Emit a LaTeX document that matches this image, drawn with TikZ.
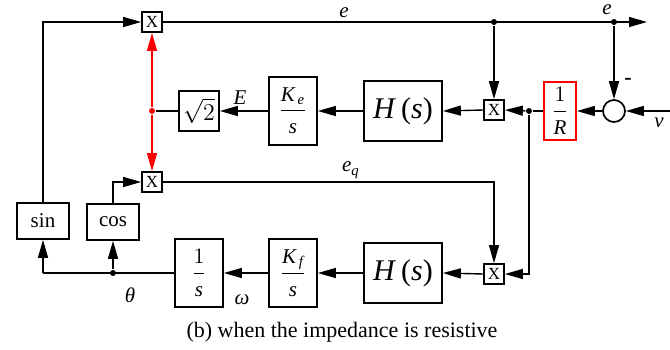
\documentclass[tikz,border=0pt]{standalone}
\usepackage{amsmath}
\usepackage{fontspec}
\setmainfont{Liberation Serif}
\usetikzlibrary{arrows.meta}
\newcommand\mi[1]{\textit{#1}}
\newcommand\fr[2]{$\dfrac{#1\rule[-2.5pt]{0pt}{0pt}}{\rule{0pt}{10pt}#2}$}
\begin{document}
\begin{tikzpicture}[x=0.5pt,y=-0.5pt,line width=0.7pt,
 every node/.style={inner sep=0pt},
 blk/.style={draw,line width=0.85pt,fill=white},
 mul/.style={blk,minimum width=10pt,minimum height=10pt,font=\fontsize{8.5}{8.5}\selectfont},
 fracbox/.style={blk,minimum width=24pt,minimum height=34pt,font=\fontsize{10.5}{10.5}\selectfont},
 hbox/.style={blk,minimum width=39pt,minimum height=30pt,font=\fontsize{15}{15}\selectfont},
 trig/.style={blk,minimum width=26pt,minimum height=18pt,font=\fontsize{10.5}{10.5}\selectfont},
 ar/.style={-{Triangle[length=9pt,width=5pt]}},
 jdot/.style={circle,fill,minimum size=3pt},
 lab/.style={font=\fontsize{10.5}{10.5}\selectfont\itshape},
]
\useasboundingbox (0,0) rectangle (670,349);
% multipliers
\node[mul] (x1) at (152,22) {X};
\node[mul] (x2) at (152,182) {X};
\node[mul] (x3) at (494,110) {X};
\node[mul] (x4) at (494,274) {X};
% blocks
\node[blk,minimum width=20pt,minimum height=20pt,font=\fontsize{12.5}{12.5}\selectfont] (sq) at (199,111) {$\sqrt{2}$};
\node[fracbox] (ke) at (293,111) {\fr{\mi{K}_{\,\mi{e}}}{\mi{s}}};
\node[hbox] (h1) at (403,111) {\mi{H}\,(\mi{s})};
\node[blk,draw=red,minimum width=16pt,minimum height=29pt,font=\fontsize{10.5}{10.5}\selectfont] (r) at (560,111) {\fr{1}{\mi{R}}};
\node[draw,circle,line width=0.85pt,minimum size=11pt] (sum) at (614,111) {};
\node[hbox] (h2) at (403,273) {\mi{H}\,(\mi{s})};
\node[fracbox] (kf) at (293,273) {\fr{\mi{K}_{\,\mi{f}}}{\mi{s}}};
\node[fracbox] (is) at (199,273) {\fr{1}{\mi{s}}};
\node[trig] (cos) at (113,222) {cos};
\node[trig] (sin) at (43,221) {sin};
% junctions
\coordinate (eout) at (647,22);
\coordinate (vin) at (670,111);
\coordinate (c1) at (43,273);
\node[jdot] (d1) at (494,22) {};
\node[jdot] (d2) at (614,22) {};
\node[jdot] (d3) at (529,111) {};
\node[jdot,red] (dr) at (152,111) {};
\node[jdot] (d4) at (113,273) {};
% connectors
\draw[ar] (sin.north) |- (x1.west);
\draw[ar] (x1.east) -- (eout);
\draw[ar] (d1) -- (x3.north);
\draw[ar] (d2) -- (sum.north);
\draw[ar] (vin) -- (sum.east);
\draw[ar] (sum.west) -- (r.east);
\draw (r.west) -- (d3);
\draw[ar] (d3) -- (x3.east);
\draw[ar] (x3.west) -- (h1.east);
\draw[ar] (h1.west) -- (ke.east);
\draw[ar] (ke.west) -- (sq.east);
\draw (sq.west) -- (dr);
\draw[ar,red] (dr) -- (x1.south);
\draw[ar,red] (dr) -- (x2.north);
\draw[ar] (d3) |- (x4.east);
\draw[ar] (x2.east) -| (x4.north);
\draw[ar] (x4.west) -- (h2.east);
\draw[ar] (h2.west) -- (kf.east);
\draw[ar] (kf.west) -- (is.east);
\draw (is.west) -- (c1);
\draw[ar] (c1) -- (sin.south);
\draw[ar] (d4) -- (cos.south);
\draw[ar] (cos.north) |- (x2.west);
% labels
\node[lab] (le1) at (344,13) {e};
\node[lab] (le2) at (607,10) {e};
\node[font=\fontsize{11}{11}\selectfont\bfseries] (lm) at (628,81) {-};
\node[lab] (lv) at (659,123) {v};
\node[lab] (lE) at (240,98) {E};
\node[lab] (leq) at (351,170) {e\textsubscript{q}};
\node[lab] (lth) at (130,295) {θ};
\node[lab] (lom) at (242,300) {ω};
\node[font=\fontsize{11}{11}\selectfont] (cap) at (342,332) {(b) when the impedance is resistive};
\end{tikzpicture}
\end{document}
